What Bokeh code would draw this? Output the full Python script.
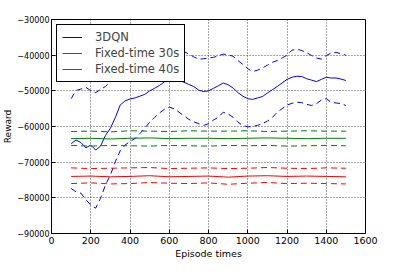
from bokeh.plotting import figure
from bokeh.models import Range1d, FixedTicker
from bokeh.embed import file_html
from bokeh.resources import INLINE

# ---- data ----
ep_dqn = list(range(100, 1501, 25))
dqn_mean = [-64800, -63800, -64500, -66000, -65200, -66600, -65500, -62500, -60500, -57500,
            -54000, -52800, -52300, -52000, -51500, -51000, -50000, -49300, -48500, -47500,
            -47000, -46800, -47000, -47600, -48200, -48800, -49800, -50200, -50000, -49300,
            -48600, -47800, -48300, -49200, -50500, -51500, -52200, -52400, -52000, -51600,
            -50600, -49700, -48800, -47800, -46800, -46200, -45900, -46000, -46600, -47000,
            -47400, -46800, -46200, -46400, -46400, -46700, -47100]
dqn_upper = [-52200, -49900, -49500, -49000, -50000, -50500, -49600, -48800, -47400, -46500,
             -45500, -44500, -43500, -42500, -42000, -41500, -41000, -40500, -40000, -39500,
             -39000, -38500, -38700, -39000, -39700, -40500, -41100, -41000, -40800, -40600,
             -40200, -39700, -39900, -40300, -41500, -42600, -43800, -44600, -44200, -43600,
             -42800, -42000, -41500, -40800, -40000, -38600, -38300, -38700, -39300, -40100,
             -40800, -41100, -40100, -39400, -39200, -39600, -40000]
dqn_lower = [-77400, -78300, -78700, -80500, -82000, -82900, -80100, -76400, -73600, -69900,
             -66800, -65200, -64200, -63400, -62000, -60500, -58800, -57500, -56200, -55200,
             -54600, -55000, -56000, -57000, -58000, -58700, -59200, -59700, -59200, -58200,
             -57400, -56000, -56500, -57400, -58800, -59700, -60100, -60000, -59700, -59200,
             -58500, -57500, -56000, -55000, -54000, -53500, -53200, -53300, -53800, -54100,
             -53600, -52600, -52200, -53200, -53400, -53600, -54100]

ep_fixed = list(range(100, 1501, 100))
f30_mean = [-63400, -63300, -63500, -63300, -63200, -63400, -63300, -63300, -63400, -63300,
            -63200, -63300, -63400, -63300, -63300]
f30_upper = [-61400, -61300, -61500, -61200, -61300, -61400, -61200, -61300, -61300, -61200,
             -61400, -61300, -61200, -61300, -61300]
f30_lower = [-65300, -65500, -65300, -65400, -65500, -65300, -65400, -65500, -65300, -65400,
             -65300, -65500, -65400, -65300, -65400]
f40_mean = [-74000, -73900, -74100, -74000, -73800, -74100, -74000, -73900, -74200, -73900,
            -73800, -74000, -73900, -74000, -74100]
f40_upper = [-71600, -71800, -71700, -71600, -71500, -71800, -71700, -71600, -71800, -71700,
             -71500, -71700, -71800, -71600, -71700]
f40_lower = [-76000, -75800, -76100, -76000, -75700, -75900, -76000, -75800, -76200, -75900,
             -75700, -76000, -75900, -76000, -76100]

x_ticks = [0, 200, 400, 600, 800, 1000, 1200, 1400, 1600]
x_labels = ["0", "200", "400", "600", "800", "1000", "1200", "1400", "1600"]
y_ticks = [-90000, -80000, -70000, -60000, -50000, -40000, -30000]
y_labels = ["\u221290000", "\u221280000", "\u221270000", "\u221260000", "\u221250000",
            "\u221240000", "\u221230000"]

series_names = ["3DQN", "Fixed-time 30s", "Fixed-time 40s"]

FONT = "DejaVu Sans"

p = figure(width=399, height=261, output_backend="svg", toolbar_location=None,
           x_range=Range1d(0, 1600), y_range=Range1d(-90000, -30000),
           min_border_left=0, min_border_right=34, min_border_top=19, min_border_bottom=0)
p.background_fill_color = "white"
p.border_fill_color = "white"
p.outline_line_color = "black"
p.outline_line_width = 1
p.outline_line_alpha = 1

for ax in (p.xaxis[0], p.yaxis[0]):
    ax.major_tick_in = 4
    ax.major_tick_out = 0
    ax.minor_tick_in = 0
    ax.minor_tick_out = 0
    ax.axis_line_color = "black"
    ax.major_label_text_font = FONT
    ax.major_label_text_color = "black"
    ax.axis_label_text_font = FONT
    ax.axis_label_text_font_style = "normal"
    ax.axis_label_text_color = "black"

p.xaxis.axis_label_text_font_size = "9.5px"
p.yaxis.axis_label_text_font_size = "9px"
p.xaxis.major_label_text_font_size = "9.5px"
p.yaxis.major_label_text_font_size = "8px"
p.xaxis.ticker = FixedTicker(ticks=x_ticks)
p.xaxis.major_label_overrides = {t: l for t, l in zip(x_ticks, x_labels)}
p.yaxis.ticker = FixedTicker(ticks=y_ticks)
p.yaxis.major_label_overrides = {t: l for t, l in zip(y_ticks, y_labels)}
p.xaxis.axis_label = "Episode times"
p.yaxis.axis_label = "Reward"
p.xaxis.major_label_standoff = 3
p.xaxis.axis_label_standoff = 1
p.yaxis.major_label_standoff = 2
p.yaxis.axis_label_standoff = 1

p.xgrid.ticker = FixedTicker(ticks=x_ticks)
p.ygrid.ticker = FixedTicker(ticks=y_ticks)
p.grid.grid_line_color = "black"
p.grid.grid_line_alpha = 0.7
p.grid.grid_line_width = 1
p.grid.grid_line_dash = "1 2"

dash = "6 4"
colors = ["#0000ff", "#008000", "#ff0000"]
means = [dqn_mean, f30_mean, f40_mean]
uppers = [dqn_upper, f30_upper, f40_upper]
lowers = [dqn_lower, f30_lower, f40_lower]
xs = [ep_dqn, ep_fixed, ep_fixed]

for name, c, x, m in zip(series_names, colors, xs, means):
    p.line(x, m, line_color=c, line_width=1, legend_label=name)
for c, x, u, l in zip(colors, xs, uppers, lowers):
    p.line(x, u, line_color=c, line_width=1, line_dash=dash)
    p.line(x, l, line_color=c, line_width=1, line_dash=dash)

lg = p.legend[0]
lg.location = "top_left"
lg.margin = 5
lg.padding = 5
lg.spacing = 2
lg.label_text_font = FONT
lg.label_text_font_size = "11.5px"
lg.label_height = 14
lg.glyph_height = 14
lg.glyph_width = 20
lg.label_standoff = 13
lg.border_line_color = "black"
lg.border_line_width = 1
lg.border_line_alpha = 1
lg.background_fill_color = "white"
lg.background_fill_alpha = 1

open("out.html", "w").write(file_html(p, INLINE))
